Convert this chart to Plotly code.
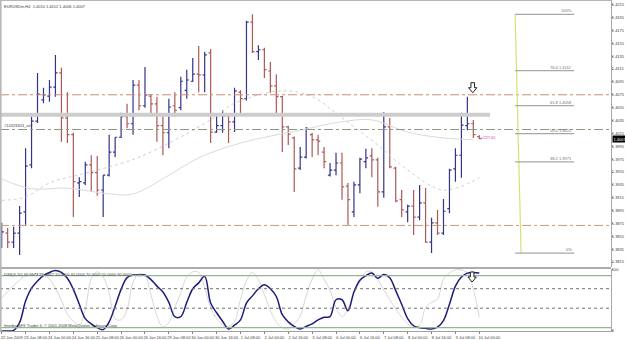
import plotly.graph_objects as go

# ---------------- data (EURUSD H4, 22 Jun 16:00 .. 10 Jul 00:00 2009) ----------------
bar_index = list(range(81))
opens = [1.3857, 1.3860, 1.3846, 1.3860, 1.3893, 1.3966, 1.4034, 1.4067, 1.4073, 1.4087,
         1.4109, 1.4039, 1.4013, 1.3938, 1.3938, 1.3966, 1.3954, 1.3927, 1.3950, 1.3986,
         1.4009, 1.4041, 1.4030, 1.4090, 1.4058, 1.4073, 1.4061, 1.4027, 1.4016, 1.4058,
         1.4055, 1.4082, 1.4096, 1.4107, 1.4106, 1.4140, 1.4017, 1.4027, 1.4042, 1.4033,
         1.4079, 1.4069, 1.4188, 1.4142, 1.4145, 1.4112, 1.4089, 1.4072, 1.4025, 1.4008,
         1.3961, 1.3978, 1.4013, 1.4005, 1.3986, 1.3950, 1.3958, 1.3969, 1.3933, 1.3893,
         1.3935, 1.3971, 1.3980, 1.3974, 1.3924, 1.4025, 1.3961, 1.3912, 1.3893, 1.3902,
         1.3885, 1.3907, 1.3846, 1.3876, 1.3860, 1.3898, 1.3960, 1.3981, 1.4027, 1.4030,
         1.4010]
highs = [1.3876, 1.3868, 1.3870, 1.3902, 1.3992, 1.4041, 1.4109, 1.4086, 1.4098, 1.4137,
         1.4117, 1.4079, 1.4016, 1.3947, 1.3971, 1.3981, 1.3980, 1.3950, 1.4013, 1.4009,
         1.4047, 1.4061, 1.4098, 1.4098, 1.4118, 1.4076, 1.4072, 1.4044, 1.4069, 1.4079,
         1.4103, 1.4114, 1.4132, 1.4151, 1.4142, 1.4146, 1.4044, 1.4051, 1.4044, 1.4086,
         1.4082, 1.4190, 1.4200, 1.4152, 1.4148, 1.4126, 1.4107, 1.4073, 1.4027, 1.4010,
         1.3994, 1.4025, 1.4016, 1.4013, 1.3994, 1.3969, 1.3985, 1.3985, 1.3938, 1.3940,
         1.3977, 1.3991, 1.3992, 1.3977, 1.4048, 1.4039, 1.3963, 1.3927, 1.3904, 1.3927,
         1.3935, 1.3930, 1.3884, 1.3896, 1.3913, 1.3960, 1.3992, 1.4047, 1.4072, 1.4036,
         1.4012]
lows = [1.3837, 1.3837, 1.3837, 1.3826, 1.3873, 1.3961, 1.4031, 1.4062, 1.4064, 1.4072,
        1.4002, 1.4000, 1.3885, 1.3916, 1.3935, 1.3924, 1.3918, 1.3885, 1.3948, 1.3978,
        1.4008, 1.4023, 1.4013, 1.4051, 1.4055, 1.4044, 1.4002, 1.3981, 1.3992, 1.4041,
        1.4051, 1.4069, 1.4095, 1.4079, 1.4079, 1.4000, 1.4016, 1.4016, 1.4000, 1.4017,
        1.4044, 1.4066, 1.4140, 1.4129, 1.4101, 1.4078, 1.4044, 1.3986, 1.3997, 1.3924,
        1.3958, 1.3976, 1.3978, 1.3981, 1.3961, 1.3948, 1.3950, 1.3912, 1.3873, 1.3885,
        1.3922, 1.3961, 1.3947, 1.3901, 1.3915, 1.3961, 1.3908, 1.3885, 1.3877, 1.3857,
        1.3880, 1.3845, 1.3829, 1.3857, 1.3857, 1.3891, 1.3940, 1.3946, 1.4020, 1.4008,
        1.4006]
closes = [1.3862, 1.3846, 1.3860, 1.3891, 1.3964, 1.4034, 1.4076, 1.4075, 1.4087, 1.4109,
          1.4039, 1.4013, 1.3940, 1.3940, 1.3966, 1.3954, 1.3927, 1.3950, 1.3986, 1.4009,
          1.4041, 1.4030, 1.4090, 1.4058, 1.4075, 1.4061, 1.4027, 1.4016, 1.4056, 1.4051,
          1.4096, 1.4098, 1.4107, 1.4106, 1.4137, 1.4017, 1.4027, 1.4042, 1.4033, 1.4081,
          1.4069, 1.4188, 1.4142, 1.4145, 1.4114, 1.4089, 1.4072, 1.4025, 1.4014, 1.3960,
          1.3978, 1.4023, 1.4005, 1.4003, 1.3971, 1.3958, 1.3969, 1.3932, 1.3912, 1.3935,
          1.3975, 1.3977, 1.3974, 1.3924, 1.4025, 1.3963, 1.3910, 1.3896, 1.3902, 1.3885,
          1.3907, 1.3846, 1.3876, 1.3860, 1.3894, 1.3958, 1.3981, 1.4028, 1.4030, 1.4013,
          1.4007]

# moving averages (light gray), read at selected bars
ma_slow_idx = [0, 5, 11, 18, 22, 28, 33, 40, 50, 57, 62, 68, 73, 79]
ma_slow = [1.3944, 1.3929, 1.3930, 1.3921, 1.3921, 1.3950, 1.3977, 1.4000, 1.4020,
           1.4033, 1.4036, 1.4017, 1.4009, 1.4005]
ma_fast_idx = [0, 4, 8, 14, 23, 35, 39, 47, 52, 57, 63, 68, 74, 80]
ma_fast = [1.3911, 1.3916, 1.3938, 1.3953, 1.3978, 1.4036, 1.4062, 1.4081, 1.4072,
           1.4039, 1.3997, 1.3958, 1.3927, 1.3946]

# DSS indicator
dss_main = [5, 5, 6, 18, 51, 71, 82, 90, 95, 98, 95, 86, 69, 46, 24, 16, 10, 7, 19, 43,
            69, 87, 91, 91, 91, 84, 74, 65, 49, 27, 27, 49, 70, 79, 89, 48, 33, 20, 8, 14,
            22, 48, 59, 70, 76, 70, 58, 30, 19, 12, 8, 12, 16, 22, 26, 27, 53, 53, 36, 65,
            83, 90, 94, 86, 92, 87, 67, 46, 24, 13, 10, 9, 8, 11, 21, 46, 74, 88, 94, 95, 94]
dss_signal = [55, 66, 75, 83, 90, 91, 93, 91, 85, 71, 52, 31, 20, 14, 38, 85, 96, 88, 63, 24,
              22, 38, 80, 93, 90, 61, 28, 11, 18, 41, 64, 88, 96, 95, 71, 41, 24, 14, 12, 19,
              54, 82, 95, 84, 61, 36, 19, 10, 8, 16, 28, 59, 85, 99, 85, 67, 41, 27, 39, 63,
              80, 96, 96, 84, 68, 53, 39, 26, 16, 12, 14, 41, 49, 54, 85, 94, 99, 99, 94, 69, 26]
dss_levels = [90, 70, 40, 10]

# price axis ticks
price_ticks = [1.4215, 1.4195, 1.4175, 1.4155, 1.4135, 1.4115, 1.4095, 1.4075, 1.4055,
               1.4035, 1.4015, 1.3995, 1.3975, 1.3955, 1.3935, 1.3915, 1.3895, 1.3875,
               1.3855, 1.3835, 1.3815]
time_tick_bars = [0, 4, 8, 12, 16, 20, 24, 28, 32, 36, 40, 44, 48, 52, 56, 60, 64, 68, 72, 76, 80]
time_tick_labels = ["22 Jun 2009", "23 Jun 08:00", "24 Jun 00:00", "24 Jun 16:00", "25 Jun 08:00",
                    "26 Jun 00:00", "26 Jun 16:00", "29 Jun 08:00", "30 Jun 00:00", "30 Jun 16:00",
                    "1 Jul 08:00", "2 Jul 00:00", "2 Jul 16:00", "3 Jul 08:00", "6 Jul 00:00",
                    "6 Jul 16:00", "7 Jul 08:00", "8 Jul 00:00", "8 Jul 16:00", "9 Jul 08:00",
                    "10 Jul 00:00"]

# horizontal levels
sell_price = 1.4021
upper_line = 1.4075
lower_line = 1.3872
gray_band = 1.4044
last_price = 1.4007

# Fibonacci
fib_high = 1.4200
fib_low = 1.3829
fib_levels = [1.0, 0.764, 0.618, 0.5, 0.382, 0.0]

# ---------------- styles ----------------
UP = "#34348a"
DN = "#ad5858"
FONT = "Liberation Sans"
TXT = "#404040"
XR = [-0.285, 102.06]
YR = [1.38074, 1.42223]
Y2R = [4.92, 101.08]

fig = go.Figure()
fig.add_trace(go.Scatter(x=ma_slow_idx, y=ma_slow, mode="lines", hoverinfo="skip",
                         line=dict(color="#dadada", width=1, shape="spline"),
                         xaxis="x", yaxis="y"))
fig.add_trace(go.Scatter(x=ma_fast_idx, y=ma_fast, mode="lines", hoverinfo="skip",
                         line=dict(color="#d0d0d0", width=1, dash="dot", shape="spline"),
                         xaxis="x", yaxis="y"))
fig.add_trace(go.Ohlc(x=bar_index, open=opens, high=highs, low=lows, close=closes,
                      increasing=dict(line=dict(color=UP, width=1.2)),
                      decreasing=dict(line=dict(color=DN, width=1.2)),
                      tickwidth=0.36, xaxis="x", yaxis="y"))
fig.add_trace(go.Scatter(x=bar_index, y=dss_signal, mode="lines", hoverinfo="skip",
                         line=dict(color="#d6d6d6", width=1, shape="spline"),
                         xaxis="x2", yaxis="y2"))
fig.add_trace(go.Scatter(x=bar_index, y=dss_main, mode="lines", hoverinfo="skip",
                         line=dict(color="#1c1c7c", width=1.5, shape="spline"),
                         xaxis="x2", yaxis="y2"))

shapes = []
# order / level lines
shapes.append(dict(type="line", xref="paper", x0=0, x1=1, yref="y", y0=upper_line, y1=upper_line,
                   line=dict(color="#cc8a7a", width=1, dash="dashdot")))
shapes.append(dict(type="line", xref="paper", x0=0, x1=1, yref="y", y0=sell_price, y1=sell_price,
                   line=dict(color="#8a9a80", width=1, dash="dashdot")))
shapes.append(dict(type="line", xref="paper", x0=0, x1=1, yref="y", y0=lower_line, y1=lower_line,
                   line=dict(color="#c49a78", width=1, dash="dashdot")))
shapes.append(dict(type="line", xref="x", x0=-0.3, x1=81.8, yref="y", y0=gray_band, y1=gray_band,
                   line=dict(color="#cdcdcd", width=4)))
# Fibonacci
fib_x0, fib_x1, fib_lab_x = 86.0, 87.0, 95.9
shapes.append(dict(type="line", xref="x", x0=fib_x0, x1=fib_x1, yref="y", y0=fib_high, y1=fib_low,
                   line=dict(color="#d2e27a", width=1.2)))
annotations = []
for lv in fib_levels:
    p = fib_low + (fib_high - fib_low) * lv
    shapes.append(dict(type="line", xref="x", x0=fib_x0, x1=fib_lab_x, yref="y", y0=p, y1=p,
                       line=dict(color="#a8a8a8", width=1.2)))
    if lv in (1.0, 0.0):
        lab = f"{int(lv*100)}%"
    else:
        lab = f"{lv*100:.1f} {p:.4f}"
    annotations.append(dict(x=fib_lab_x, y=p, xref="x", yref="y", text=lab, showarrow=False,
                            xanchor="right", yanchor="bottom", yshift=-1,
                            font=dict(size=4, color="#707070", family=FONT)))
# indicator levels
for lv in dss_levels:
    if lv in (90, 10):
        ln = dict(color="#94b494", width=1.2)
    else:
        ln = dict(color="#707070", width=1, dash="dot")
    shapes.append(dict(type="line", xref="paper", x0=0, x1=1, yref="y2", y0=lv, y1=lv, line=ln))
# frames
shapes.append(dict(type="line", xref="paper", x0=0, x1=1, yref="paper", y0=1, y1=1,
                   line=dict(color="#b4b4b4", width=2)))
shapes.append(dict(type="line", xref="paper", x0=0, x1=1, yref="paper", y0=0.1905, y1=0.1905,
                   line=dict(color="#909090", width=1.5)))
shapes.append(dict(type="line", xref="paper", x0=0.001, x1=0.001, yref="paper", y0=0, y1=1,
                   line=dict(color="#b8b8b8", width=2)))

# hollow down arrows (MT4 arrow objects), drawn in pixel units around an anchor
ARROW = "M -1.8,5 L 1.8,5 L 1.8,0 L 4.2,0 L 0,-5 L -4.2,0 L -1.8,0 Z"
for xa, ya, yr in [(78.9, 1.4086, "y"), (78.8, 88, "y2")]:
    shapes.append(dict(type="path", xref="x" if yr == "y" else "x2", yref=yr,
                       xsizemode="pixel", ysizemode="pixel", xanchor=xa, yanchor=ya,
                       path=ARROW, line=dict(color="#202020", width=1), fillcolor="white"))

# texts
annotations += [
    dict(xref="paper", yref="paper", x=0.004, y=1, yshift=-2, xanchor="left", yanchor="top",
         text="EURUSDm,H4  1.4010 1.4012 1.4006 1.4007", showarrow=False,
         font=dict(size=4, color=TXT, family=FONT)),
    dict(xref="paper", yref="y", x=0.004, y=sell_price, xanchor="left", yanchor="bottom", yshift=0,
         text="#14323303_sell", showarrow=False, font=dict(size=4, color=TXT, family=FONT)),
    dict(xref="x", yref="y", x=79.9, y=1.4008, xanchor="left", yanchor="middle",
         text="&lt;227.65", showarrow=False, font=dict(size=4, color="#d040c0", family=FONT)),
    dict(xref="paper", yref="y2 domain", x=0.004, y=1, yshift=-1, xanchor="left", yanchor="top",
         text="DSS(3,10) 96.9673 27.3842 10.0000 40.0000 70.0000 10.0000 90.0000", showarrow=False,
         font=dict(size=4, color=TXT, family=FONT)),
    dict(xref="paper", yref="y2 domain", x=0.004, y=0, yshift=1, xanchor="left", yanchor="bottom",
         text="InterbankFX Trader 4, © 2001-2008 MetaQuotes Software Corp.", showarrow=False,
         font=dict(size=4, color=TXT, family=FONT)),
    dict(xref="paper", yref="y", x=1, xshift=1, y=last_price, xanchor="left", yanchor="middle",
         text=f"{last_price:.4f}", showarrow=False, bgcolor="#000000", borderpad=0.5,
         font=dict(size=4, color="#ffffff", family=FONT)),
]

fig.update_layout(
    template="none", width=625, height=340,
    margin=dict(l=0, r=14, t=0, b=9),
    paper_bgcolor="white", plot_bgcolor="white", showlegend=False,
    xaxis=dict(domain=[0, 1], range=XR, showticklabels=False, showgrid=False, zeroline=False,
               anchor="y", matches="x2", rangeslider=dict(visible=False), automargin=False,
               ticks=""),
    yaxis=dict(domain=[0.1934, 1], range=YR, side="right", anchor="x", tickvals=price_ticks,
               ticktext=[f"{v:.4f}" for v in price_ticks], tickfont=dict(size=4, color=TXT, family=FONT),
               ticks="outside", ticklen=1, tickcolor="#808080", ticklabelstandoff=-2,
               showgrid=False, zeroline=False,
               showline=True, linecolor="#a8a8a8", linewidth=1, automargin=False),
    xaxis2=dict(domain=[0, 1], range=XR, anchor="y2", tickvals=time_tick_bars, ticktext=time_tick_labels,
                tickfont=dict(size=4, color=TXT, family=FONT), ticks="outside", ticklen=2,
                tickcolor="#808080", ticklabelshift=10, tickangle=0, showgrid=False, zeroline=False,
                showline=True, linecolor="#a0a0a0", linewidth=1, automargin=False,
                rangeslider=dict(visible=False)),
    yaxis2=dict(domain=[0, 0.1888], range=Y2R, side="right", anchor="x2", tickvals=[100, 5],
                ticktext=["100", "0"], tickfont=dict(size=4, color=TXT, family=FONT),
                ticks="outside", ticklen=1, tickcolor="#808080", ticklabelstandoff=-2,
                showgrid=False, zeroline=False,
                showline=True, linecolor="#a8a8a8", linewidth=1, automargin=False),
    shapes=shapes, annotations=annotations,
)

fig.write_html("out.html")
